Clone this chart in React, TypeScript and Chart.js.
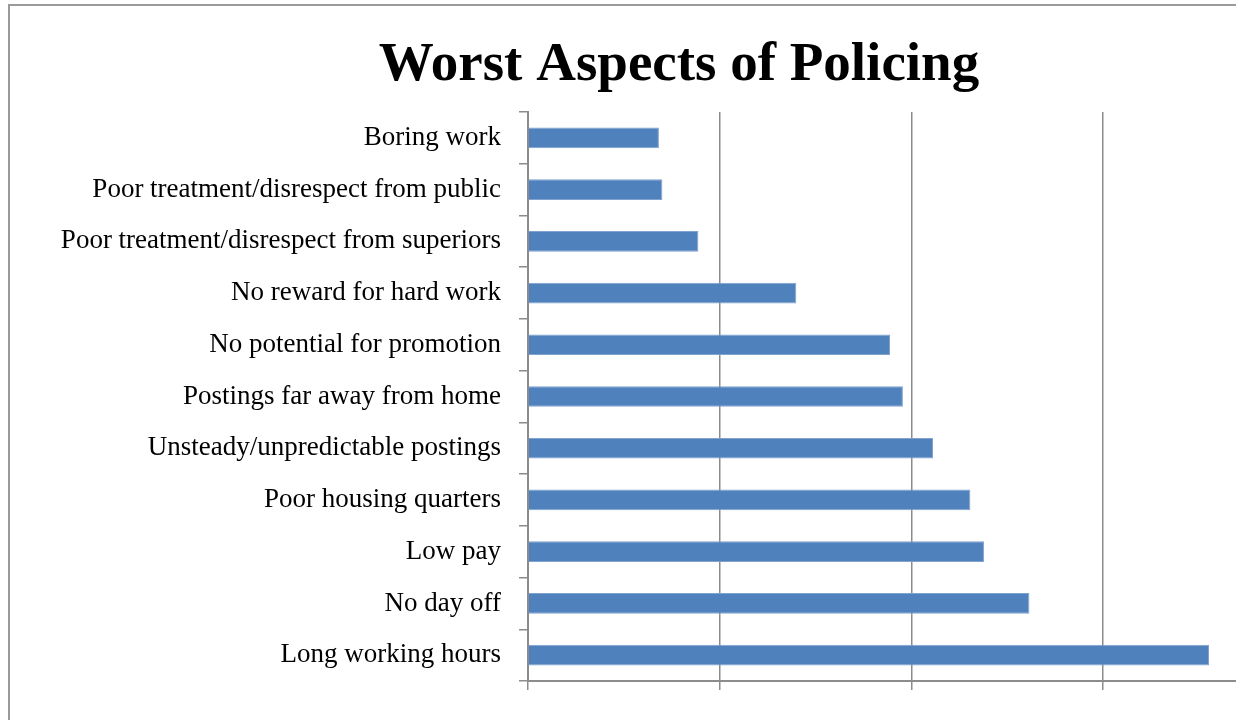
import React, { useEffect, useRef } from "react";
import { Chart, registerables } from "chart.js";

Chart.register(...registerables);

const categories = [
  "Boring work",
  "Poor treatment/disrespect from public",
  "Poor treatment/disrespect from superiors",
  "No reward for hard work",
  "No potential for promotion",
  "Postings far away from home",
  "Unsteady/unpredictable postings",
  "Poor housing quarters",
  "Low pay",
  "No day off",
  "Long working hours",
];

const values = [6.83, 7.01, 8.89, 14.0, 18.89, 19.56, 21.13, 23.08, 23.79, 26.16, 35.53];

const TITLE = "Worst Aspects of Policing";
const FONT = "'Liberation Serif', 'Times New Roman', serif";

export default function App() {
  const ref = useRef<HTMLCanvasElement | null>(null);

  useEffect(() => {
    if (!ref.current) return;
    const chart = new Chart(ref.current, {
      type: "bar",
      data: {
        labels: categories,
        datasets: [
          {
            data: values,
            backgroundColor: "#4F81BD",
            borderColor: "#7FA2CE",
            borderWidth: 1,
            categoryPercentage: 1,
            barPercentage: 0.4,
          },
        ],
      },
      options: {
        indexAxis: "y",
        animation: false,
        responsive: false,
        maintainAspectRatio: false,
        layout: { padding: { left: 16, right: 8, top: 33, bottom: 30 } },
        plugins: {
          legend: { display: false },
          tooltip: { enabled: false },
          title: {
            display: true,
            text: TITLE,
            color: "#000",
            font: { family: FONT, size: 55, weight: "bold" },
            padding: { top: 0, bottom: 13 },
          },
        },
        scales: {
          x: {
            min: 0,
            max: 42.47,
            ticks: { display: false, stepSize: 10 },
            grid: {
              color: "#8c8c8c",
              lineWidth: 1.5,
              tickLength: 9,
              drawTicks: true,
            },
            border: { color: "#8c8c8c", width: 2 },
          },
          y: {
            afterFit: (scale: any) => {
              scale.width = 528 - 16;
            },
            ticks: {
              color: "#000",
              padding: 18,
              font: { family: FONT, size: 27 },
            },
            grid: {
              drawOnChartArea: false,
              drawTicks: true,
              tickLength: 9,
              color: "#8c8c8c",
              lineWidth: 1.5,
            },
            border: { color: "#8c8c8c", width: 2 },
          },
        },
      },
    });
    return () => chart.destroy();
  }, []);

  return (
    <div
      style={{
        position: "fixed",
        left: 0,
        top: 0,
        width: 1236,
        height: 720,
        overflow: "hidden",
        background: "#fff",
      }}
    >
      <div
        style={{
          position: "absolute",
          left: 8,
          top: 4,
          width: 1342,
          height: 760,
          border: "2px solid #9a9a9a",
          boxSizing: "border-box",
        }}
      />
      <canvas
        ref={ref}
        width={1350}
        height={720}
        style={{ position: "absolute", left: 0, top: 0, width: 1350, height: 720 }}
      />
    </div>
  );
}
